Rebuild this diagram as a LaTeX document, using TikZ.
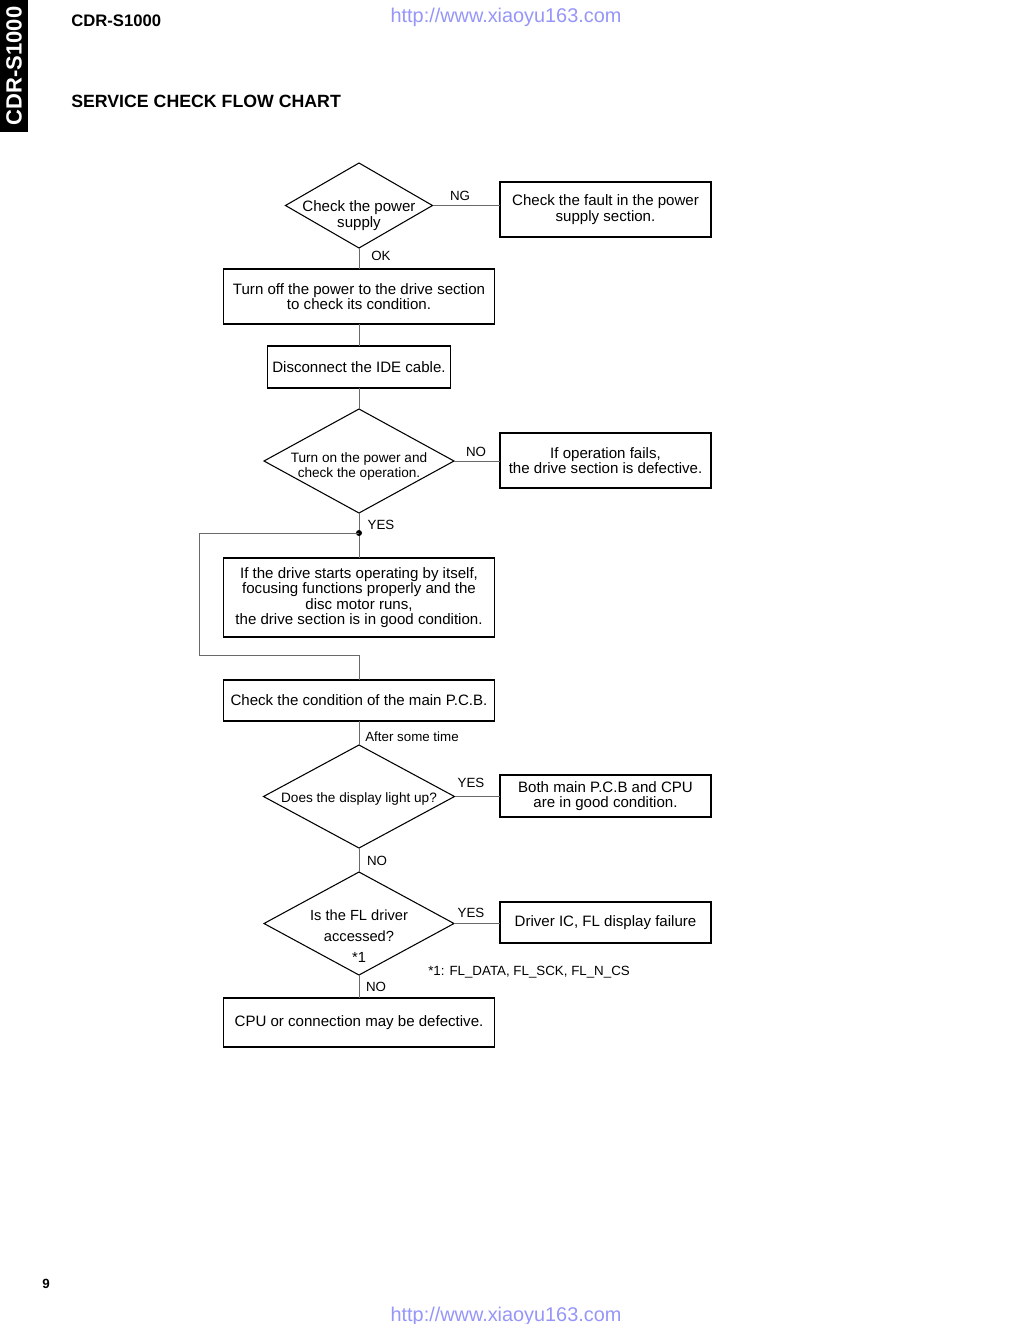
\documentclass[tikz,border=0pt]{standalone}
\usepackage{fontspec}
\setmainfont{Liberation Sans}
\usetikzlibrary{shapes.geometric}
\definecolor{urlblue}{RGB}{150,150,250}
\definecolor{conn}{RGB}{105,105,105}
\tikzset{
  box/.style={draw=black, line width=1pt, rectangle, inner sep=0pt, outer sep=0pt, align=center,
     font=\fontsize{11.3}{11.5}\selectfont},
  dia/.style={draw=black, line width=0.8pt, diamond, inner sep=0pt, outer sep=0pt},
  dtext/.style={align=center, font=\fontsize{11.3}{11.5}\selectfont},
  dsmall/.style={align=center, font=\fontsize{10.2}{11.2}\selectfont},
  lab/.style={font=\fontsize{10}{11}\selectfont, inner sep=0pt},
  wire/.style={draw=conn, line width=0.75pt},
}
\begin{document}
\begin{tikzpicture}[x=0.75pt, y=-0.75pt]
\useasboundingbox (0,0) rectangle (1015,1324);
\fill[white] (0,0) rectangle (1015,1324);

% header
\fill[black] (0,0) rectangle (28,132);
\node[rotate=90, text=white, font=\fontsize{16.5}{18}\bfseries\selectfont, inner sep=0pt] (side) at (14,66) {CDR-S1000};
\node[anchor=west, font=\fontsize{12.5}{14}\bfseries\selectfont, inner sep=0pt] (model) at (71,21) {CDR-S1000};
\node[anchor=west, font=\fontsize{13.3}{15}\bfseries\selectfont, inner sep=0pt] (title) at (71,101) {SERVICE CHECK FLOW CHART};
\node[text=urlblue, font=\fontsize{14.9}{16}\selectfont, inner sep=0pt] (urltop) at (506,17) {http://www.xiaoyu163.com};
\node[text=urlblue, font=\fontsize{14.9}{16}\selectfont, inner sep=0pt] (urlbot) at (506,1316) {http://www.xiaoyu163.com};
\node[font=\fontsize{10}{11}\bfseries\selectfont, inner sep=0pt] (page) at (46,1284) {9};

% flow nodes
\node[dia, minimum width=110.25pt, minimum height=63.75pt,
      label={[dtext, yshift=-7.5pt]center:Check the power\\supply}] (d1) at (359,205.5) {};
\node[box, minimum width=158.25pt, minimum height=41.25pt] (b1) at (605.5,209.5) {Check the fault in the power\\supply section.};
\node[box, minimum width=203.25pt, minimum height=41.25pt] (b2) at (359,296.5) {Turn off the power to the drive section\\to check its condition.};
\node[box, minimum width=137.25pt, minimum height=31.5pt] (b3) at (359,367) {Disconnect the IDE cable.};
\node[dia, minimum width=142.5pt, minimum height=78pt,
      label={[dsmall, yshift=-4pt]center:Turn on the power and\\check the operation.}] (d2) at (359,461) {};
\node[box, minimum width=158.25pt, minimum height=41.25pt] (b4) at (605.5,460.5) {If operation fails,\\the drive section is defective.};
\node[box, minimum width=203.25pt, minimum height=59.25pt] (b5) at (359,597.5) {If the drive starts operating by itself,\\focusing functions properly and the\\disc motor runs,\\the drive section is in good condition.};
\node[box, minimum width=203.25pt, minimum height=30.75pt] (b6) at (359,700.5) {Check the condition of the main P.C.B.};
\node[dia, minimum width=143.25pt, minimum height=77.25pt,
      label={[dsmall, yshift=-1.5pt]center:Does the display light up?}] (d3) at (359,796.5) {};
\node[box, minimum width=158.25pt, minimum height=31.5pt] (b7) at (605.5,796) {Both main P.C.B and CPU\\are in good condition.};
\node[dia, minimum width=142.5pt, minimum height=77.25pt,
      label={[align=center, font=\fontsize{11}{15.9}\selectfont, yshift=-9.5pt]center:Is the FL driver\\accessed?\\*1}] (d4) at (359,923.5) {};
\node[box, minimum width=158.25pt, minimum height=30.75pt] (b8) at (605.5,922.5) {Driver IC, FL display failure};
\node[box, minimum width=203.25pt, minimum height=36.75pt] (b9) at (359,1022.5) {CPU or connection may be defective.};

% connectors
\path[wire] (d1.east) -- (b1.west |- d1.east);
\path[wire] (d1.south) -- (b2.north);
\path[wire] (b2.south) -- (b3.north);
\path[wire] (b3.south) -- (d2.north);
\path[wire] (d2.east) -- (b4.west |- d2.east);
\path[wire] (d2.south) -- (b5.north);
\node[circle, fill=black, inner sep=0pt, minimum size=4.5pt] (j1) at (359,533) {};
\coordinate (l1) at (199,533);
\coordinate (l2) at (199,655);
\coordinate (l3) at (359,655);
\path[wire] (j1.center) -- (l1) -- (l2) -- (l3) -- (b6.north);
\path[wire] (b6.south) -- (d3.north);
\path[wire] (d3.east) -- (b7.west |- d3.east);
\path[wire] (d3.south) -- (d4.north);
\path[wire] (d4.east) -- (b8.west |- d4.east);
\path[wire] (d4.south) -- (b9.north);

% labels
\node[lab] (ng) at (460,196) {NG};
\node[lab] (ok) at (381,256) {OK};
\node[lab] (no1) at (476,452) {NO};
\node[lab] (yes1) at (381,525) {YES};
\node[lab] (after) at (412,737) {After some time};
\node[lab] (yes2) at (471,783) {YES};
\node[lab] (no2) at (377,861) {NO};
\node[lab] (yes3) at (471,913) {YES};
\node[lab] (no3) at (376,987) {NO};
\node[lab, anchor=west] (note) at (428,972) {*1: FL\_DATA, FL\_SCK, FL\_N\_CS};
\end{tikzpicture}
\end{document}
